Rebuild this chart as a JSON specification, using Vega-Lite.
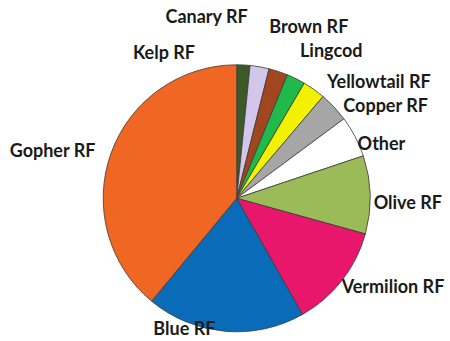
{
  "$schema": "https://vega.github.io/schema/vega-lite/v6.json",
  "width": 426.6,
  "height": 285.4,
  "autosize": {"type": "none"},
  "padding": {"left": 23.4, "top": 55.6, "right": 0, "bottom": 0},
  "background": "#ffffff",
  "view": {"stroke": null},
  "config": {"text": {"font": "Lato", "fontWeight": "bold", "fontSize": 18, "fill": "#1a1a1a", "baseline": "middle"}},
  "data": {
    "values": [
      {"rank": 1, "species": "Kelp RF", "share": 1.6},
      {"rank": 2, "species": "Canary RF", "share": 2.3},
      {"rank": 3, "species": "Brown RF", "share": 2.3},
      {"rank": 4, "species": "Lingcod", "share": 2.25},
      {"rank": 5, "species": "Yellowtail RF", "share": 2.75},
      {"rank": 6, "species": "Copper RF", "share": 3.65},
      {"rank": 7, "species": "Other", "share": 5.0},
      {"rank": 8, "species": "Olive RF", "share": 9.45},
      {"rank": 9, "species": "Vermilion RF", "share": 12.5},
      {"rank": 10, "species": "Blue RF", "share": 19.2},
      {"rank": 11, "species": "Gopher RF", "share": 39.0}
    ]
  },
  "encoding": {
    "theta": {"field": "share", "type": "quantitative", "stack": true},
    "order": {"field": "rank", "type": "quantitative"}
  },
  "layer": [
    {
      "mark": {"type": "arc", "radius": 133.5, "stroke": "#3a3a3a", "strokeWidth": 0.8},
      "encoding": {
        "color": {
          "field": "species",
          "type": "nominal",
          "legend": null,
          "scale": {
            "domain": ["Kelp RF", "Canary RF", "Brown RF", "Lingcod", "Yellowtail RF", "Copper RF", "Other", "Olive RF", "Vermilion RF", "Blue RF", "Gopher RF"],
            "range": ["#3b5a27", "#d2c6ea", "#a2461f", "#1fba4a", "#f2f200", "#a6a6a6", "#ffffff", "#9bbb59", "#e8176b", "#0a6cb8", "#f06623"]
          }
        }
      }
    },
    {
      "mark": {"type": "text", "radius": 142, "align": "left", "dx": 8},
      "encoding": {"text": {"condition": {"test": "datum.species === 'Yellowtail RF'", "field": "species"}, "value": ""}}
    },
    {
      "mark": {"type": "text", "radius": 142, "align": "left", "dx": 3, "dy": 6},
      "encoding": {"text": {"condition": {"test": "datum.species === 'Copper RF'", "field": "species"}, "value": ""}}
    },
    {
      "mark": {"type": "text", "radius": 142, "align": "left", "dx": -5, "dy": 12},
      "encoding": {"text": {"condition": {"test": "datum.species === 'Other'", "field": "species"}, "value": ""}}
    },
    {
      "mark": {"type": "text", "radius": 142, "align": "left", "dx": -5, "dy": 9},
      "encoding": {"text": {"condition": {"test": "datum.species === 'Olive RF'", "field": "species"}, "value": ""}}
    },
    {
      "mark": {"type": "text", "radius": 142, "align": "left", "dx": -7, "dy": 2},
      "encoding": {"text": {"condition": {"test": "datum.species === 'Vermilion RF'", "field": "species"}, "value": ""}}
    },
    {
      "mark": {"type": "text", "radius": 146, "align": "right", "dx": -49, "dy": 2},
      "encoding": {"text": {"condition": {"test": "datum.species === 'Kelp RF'", "field": "species"}, "value": ""}}
    },
    {
      "mark": {"type": "text", "radius": 180, "align": "center", "dx": -61, "dy": -3},
      "encoding": {"text": {"condition": {"test": "datum.species === 'Canary RF'", "field": "species"}, "value": ""}}
    },
    {
      "mark": {"type": "text", "radius": 175, "align": "left", "dx": -22, "dy": -4},
      "encoding": {"text": {"condition": {"test": "datum.species === 'Brown RF'", "field": "species"}, "value": ""}}
    },
    {
      "mark": {"type": "text", "radius": 165, "align": "left", "dx": -10, "dy": 2},
      "encoding": {"text": {"condition": {"test": "datum.species === 'Lingcod'", "field": "species"}, "value": ""}}
    },
    {
      "mark": {"type": "text", "radius": 140, "align": "center", "dx": -40, "dy": -8},
      "encoding": {"text": {"condition": {"test": "datum.species === 'Blue RF'", "field": "species"}, "value": ""}}
    },
    {
      "mark": {"type": "text", "radius": 148, "align": "right", "dx": -2, "dy": 4},
      "encoding": {"text": {"condition": {"test": "datum.species === 'Gopher RF'", "field": "species"}, "value": ""}}
    }
  ]
}
